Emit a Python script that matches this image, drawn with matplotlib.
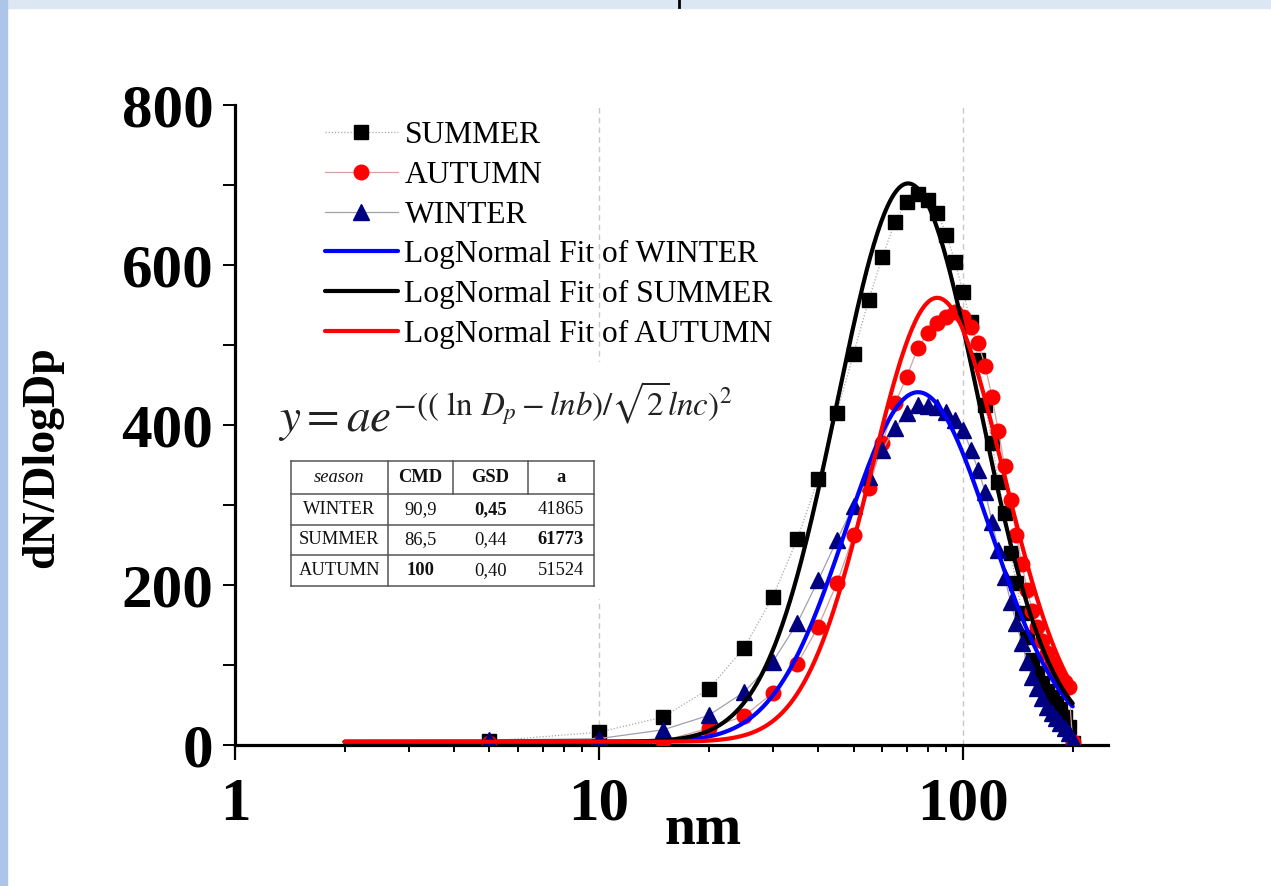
import numpy as np
import matplotlib
matplotlib.use("Agg")
import matplotlib.pyplot as plt
from matplotlib.lines import Line2D
from matplotlib.patches import Rectangle

# ---------------- data ----------------
diam = [5, 10, 15, 20, 25, 30, 35, 40, 45, 50, 55, 60, 65, 70, 75, 80, 85, 90, 95, 100,
        105, 110, 115, 120, 125, 130, 135, 140, 145, 150, 155, 160, 165, 170, 175, 180,
        185, 190, 195, 200]
summer = [5, 16, 35, 70, 121, 185, 257, 333, 415, 489, 556, 610, 654, 679, 689, 681, 665,
          638, 604, 566, 529, 481, 425, 378, 329, 290, 240, 202, 165, 135, 106, 90, 78, 68,
          60, 52, 45, 35, 22, 3]
autumn = [2, 3, 5, 21, 36, 65, 101, 148, 202, 262, 321, 377, 427, 460, 496, 515, 527, 535,
          541, 535, 523, 502, 474, 435, 392, 349, 306, 262, 226, 194, 167, 147, 130, 115,
          103, 93, 85, 79, 73, 4]
winter = [6, 8, 19, 37, 66, 104, 152, 206, 256, 299, 335, 369, 396, 415, 425, 424, 423, 416,
          406, 394, 369, 344, 316, 279, 244, 210, 179, 152, 127, 104, 85, 71, 59, 48, 40, 34,
          27, 21, 15, 6]

# log-normal fit parameters (winter, summer, autumn)
fit_names = ["WINTER", "SUMMER", "AUTUMN"]
fit_center = [75.2, 70.6, 84.9]
fit_amp = [437, 698, 555]
fit_width = [0.457, 0.45, 0.42]
fit_offset = [4, 4, 4]
fit_range = [2, 200]

# table
table_header = ["season", "CMD", "GSD", "a"]
table_rows = [["WINTER", "90,9", "0,45", "41865"],
              ["SUMMER", "86,5", "0,44", "61773"],
              ["AUTUMN", "100", "0,40", "51524"]]
table_bold = [(0, 2), (1, 3), (2, 1)]

xticks = [1, 10, 100]
yticks = [0, 200, 400, 600, 800]

# ---------------- figure ----------------
W, H = 1271, 886
plt.rcParams['font.family'] = ['Liberation Serif', 'DejaVu Serif']
plt.rcParams['mathtext.fontset'] = 'stix'
fig = plt.figure(figsize=(W / 100, H / 100), dpi=100)
fig.patch.set_facecolor('white')


def px(x, y):
    return (x / W, 1 - y / H)


# light frame like the source slide
fig.add_artist(Rectangle((0, 1 - 8 / H), 1, 8 / H, transform=fig.transFigure,
                         color='#dde6f3', zorder=0))
fig.add_artist(Rectangle((0, 0), 7 / W, 1, transform=fig.transFigure,
                         color='#aec5ea', zorder=0))
fig.add_artist(Line2D([679 / W, 679 / W], [1, 1 - 7 / H], transform=fig.transFigure,
                      color='black', lw=2))

ax = fig.add_axes([235 / W, 1 - 745 / H, 873 / W, 640 / H])
ax.set_xscale('log')
ax.set_xlim(1, 250)
ax.set_ylim(0, 800)

for s in ['top', 'right']:
    ax.spines[s].set_visible(False)
for s in ['left', 'bottom']:
    ax.spines[s].set_linewidth(2.3)

ax.set_xticks(xticks)
ax.set_xticklabels([str(t) for t in xticks])
ax.set_yticks(yticks)
ax.set_yticks([100, 300, 500, 700], minor=True)
ax.tick_params(axis='x', which='major', direction='out', length=11, width=1.6, pad=12,
               labelsize=44)
ax.tick_params(axis='x', which='minor', direction='out', length=5, width=1.4)
ax.tick_params(axis='y', which='both', direction='out', length=8.5, width=1.4, pad=7,
               labelsize=44)
for lab in ax.get_xticklabels() + ax.get_yticklabels():
    lab.set_fontweight('bold')

ax.grid(True, axis='x', which='major', color='#c8c8c8', linestyle=(0, (4, 3)), lw=1)

# data
ax.plot(diam, summer, color='#a8a8a8', ls=(0, (1, 1.5)), lw=0.9, marker='s', ms=9.5,
        mfc='black', mec='black', label='SUMMER', zorder=3)
ax.plot(diam, autumn, color='#d4a0a0', ls='-', lw=0.9, marker='o', ms=10.5,
        mfc='#ff0000', mec='#ff0000', label='AUTUMN', zorder=3)
ax.plot(diam, winter, color='#a0a0b0', ls='-', lw=0.9, marker='^', ms=11,
        mfc='#000080', mec='#000080', label='WINTER', zorder=3)

# fits
xf = np.logspace(np.log10(fit_range[0]), np.log10(fit_range[1]), 400)
fit_colors = {'WINTER': '#0000ff', 'SUMMER': '#000000', 'AUTUMN': '#ff0000'}
for name, c, a, w, y0 in zip(fit_names, fit_center, fit_amp, fit_width, fit_offset):
    yf = y0 + a * np.exp(-(np.log(xf / c)) ** 2 / (2 * w ** 2))
    ax.plot(xf, yf, color=fit_colors[name], lw=3.0, label='LogNormal Fit of ' + name,
            zorder=4, solid_capstyle='round')

leg = ax.legend(loc='upper left', bbox_to_anchor=px(325, 121), bbox_transform=fig.transFigure,
                frameon=False, fontsize=22.7, handlelength=2.3, handletextpad=0.22,
                labelspacing=0.34, borderaxespad=0, borderpad=0, numpoints=1)

# white block behind equation and table (hides the grid there)
fig.add_artist(Rectangle(px(270, 598), 475 / W, 236 / H, transform=fig.transFigure,
                         color='white', zorder=1))

# equation
fig.text(278 / W, 1 - 432 / H,
         r'$y = ae^{-((\ \mathrm{ln}\ D_p - lnb)/\sqrt{2}lnc)^2}$',
         fontsize=34, color='#222222', ha='left', va='baseline', zorder=2)

# table
col_x = [291, 388, 453, 528, 594]
row_y = [461, 494, 525, 555, 586]
tcol = '#555555'
for yy in row_y:
    fig.add_artist(Line2D([col_x[0] / W, col_x[-1] / W], [1 - yy / H, 1 - yy / H],
                          transform=fig.transFigure, color=tcol, lw=1.1, zorder=2))
for i, xx in enumerate(col_x):
    if i in (0, 1, 4):
        y_bottom = row_y[-1]
    else:
        y_bottom = row_y[1]
    fig.add_artist(Line2D([xx / W, xx / W], [1 - row_y[0] / H, 1 - y_bottom / H],
                          transform=fig.transFigure, color=tcol, lw=1.1, zorder=2))

for j, h in enumerate(table_header):
    cx = (col_x[j] + col_x[j + 1]) / 2
    cy = (row_y[0] + row_y[1]) / 2
    fig.text(cx / W, 1 - cy / H, h, fontsize=13.3, ha='center', va='center', zorder=3,
             style='italic' if j == 0 else 'normal',
             fontweight='normal' if j == 0 else 'bold', color='#111111')
for i, row in enumerate(table_rows):
    for j, val in enumerate(row):
        cx = (col_x[j] + col_x[j + 1]) / 2
        cy = (row_y[i + 1] + row_y[i + 2]) / 2
        fig.text(cx / W, 1 - cy / H, val, fontsize=13.3, ha='center', va='center', zorder=3,
                 fontweight='bold' if (i, j) in table_bold else 'normal', color='#111111')

# axis labels
fig.text(42 / W, 1 - 457 / H, 'dN/DlogDp', rotation=90, fontsize=33, fontweight='bold',
         ha='center', va='center')
fig.text(703 / W, 1 - 830 / H, 'nm', fontsize=40, fontweight='bold', ha='center',
         va='center')

fig.savefig('out.png', dpi=100)
